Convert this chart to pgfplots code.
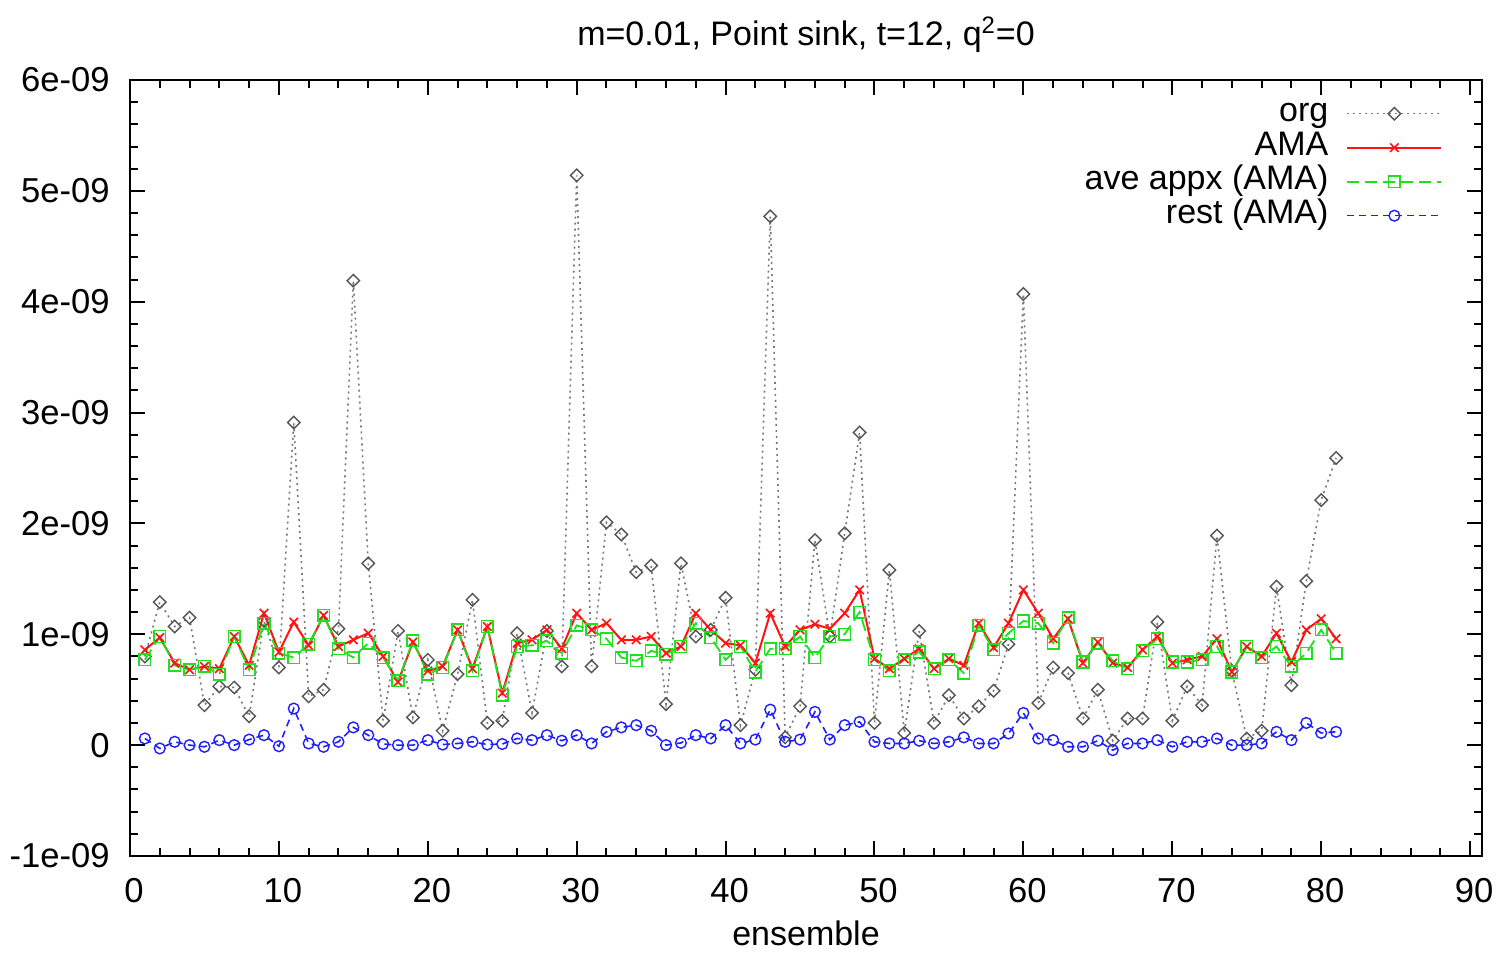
\documentclass[border=0pt]{standalone}
\usepackage{fontspec}
\setmainfont{Liberation Sans}
\usepackage{pgfplots}
\pgfplotsset{compat=1.18}

\definecolor{orggray}{RGB}{85,85,85}
\definecolor{orgline}{RGB}{120,120,120}
\definecolor{amared}{RGB}{255,20,20}
\definecolor{appxgreen}{RGB}{30,225,30}
\definecolor{restblue}{RGB}{30,30,255}

% correlator values per configuration, in units of 1e-09
\pgfplotstableread{
n org AMA appx rest
1 0.80 0.86 0.77 0.06
2 1.29 0.97 0.98 -0.03
3 1.07 0.74 0.72 0.03
4 1.15 0.68 0.68 0.00
5 0.36 0.71 0.71 -0.015
6 0.53 0.69 0.64 0.045
7 0.52 0.98 0.98 0.00
8 0.26 0.72 0.68 0.05
9 1.12 1.19 1.10 0.09
10 0.70 0.84 0.83 -0.01
11 2.91 1.11 0.79 0.33
12 0.44 0.90 0.91 0.015
13 0.50 1.17 1.17 -0.015
14 1.05 0.89 0.87 0.03
15 4.19 0.95 0.79 0.16
16 1.64 1.01 0.92 0.09
17 0.22 0.80 0.79 0.01
18 1.03 0.57 0.58 0.00
19 0.25 0.93 0.94 0.00
20 0.77 0.67 0.64 0.045
21 0.13 0.71 0.70 0.005
22 0.64 1.04 1.04 0.015
23 1.31 0.69 0.67 0.03
24 0.20 1.07 1.07 0.005
25 0.22 0.47 0.45 0.01
26 1.01 0.92 0.89 0.06
27 0.29 0.95 0.90 0.045
28 1.03 1.04 0.94 0.09
29 0.71 0.87 0.83 0.04
30 5.14 1.19 1.08 0.09
31 0.71 1.04 1.04 0.015
32 2.01 1.10 0.96 0.12
33 1.90 0.95 0.79 0.16
34 1.56 0.95 0.76 0.18
35 1.62 0.98 0.85 0.13
36 0.37 0.83 0.82 0.00
37 1.64 0.89 0.89 0.02
38 0.98 1.19 1.10 0.09
39 1.04 1.04 0.97 0.06
40 1.33 0.92 0.77 0.18
41 0.18 0.90 0.89 0.015
42 0.68 0.74 0.66 0.05
43 4.77 1.19 0.87 0.32
44 0.07 0.89 0.87 0.03
45 0.35 1.04 0.98 0.05
46 1.85 1.09 0.79 0.30
47 0.98 1.05 0.98 0.05
48 1.91 1.19 1.00 0.18
49 2.82 1.40 1.20 0.21
50 0.20 0.78 0.77 0.03
51 1.58 0.69 0.67 0.015
52 0.11 0.78 0.77 0.015
53 1.03 0.87 0.84 0.04
54 0.20 0.69 0.69 0.015
55 0.45 0.78 0.77 0.03
56 0.24 0.72 0.65 0.07
57 0.35 1.10 1.08 0.015
58 0.49 0.88 0.86 0.015
59 0.91 1.10 1.01 0.105
60 4.07 1.40 1.12 0.29
61 0.38 1.19 1.10 0.06
62 0.70 0.96 0.92 0.045
63 0.65 1.14 1.15 -0.015
64 0.24 0.74 0.75 -0.015
65 0.50 0.93 0.92 0.04
66 0.04 0.74 0.76 -0.045
67 0.24 0.70 0.69 0.015
68 0.24 0.86 0.85 0.015
69 1.11 0.98 0.96 0.045
70 0.22 0.74 0.75 -0.015
71 0.53 0.77 0.75 0.03
72 0.36 0.80 0.77 0.03
73 1.89 0.96 0.89 0.06
74 0.67 0.66 0.66 0.00
75 0.06 0.89 0.89 0.00
76 0.13 0.80 0.79 0.015
77 1.43 1.01 0.89 0.12
78 0.54 0.75 0.71 0.045
79 1.48 1.04 0.83 0.20
80 2.21 1.14 1.04 0.11
81 2.59 0.96 0.83 0.12
}\datatable

\begin{document}
\begin{tikzpicture}
\begin{axis}[
  scale only axis,
  width=676pt, height=388pt,
  xmin=0, xmax=90.8, ymin=-1, ymax=6,
  xtick={0,10,...,90},
  ytick={-1,0,...,6},
  yticklabels={-1e-09,0,1e-09,2e-09,3e-09,4e-09,5e-09,6e-09},
  minor x tick num=4, minor y tick num=4,
  tick align=inside,
  major tick length=7.5pt, minor tick length=4pt,
  every tick/.style={black, line width=1pt},
  axis line style={line width=1.4pt},
  /pgf/number format/assume math mode=true,
  tick label style={font=\fontsize{17.3}{20}\selectfont},
  xticklabel style={anchor=base, yshift=-23.5pt, xshift=2pt, inner sep=0pt},
  yticklabel style={anchor=east, xshift=-10pt, inner sep=0pt},
  title={m=0.01, Point sink, t=12, q\textsuperscript{2}=0},
  title style={at={(axis description cs:0.5,1)}, anchor=base, yshift=11pt, inner sep=0pt, font=\fontsize{17}{20}\selectfont},
  xlabel={ensemble},
  xlabel style={at={(axis description cs:0.5,0)}, anchor=base, yshift=-45pt, inner sep=0pt, font=\fontsize{17}{20}\selectfont},
  legend plot pos=right,
  legend cell align=right,
  legend style={at={(rel axis cs:0.971,0.979)}, anchor=north east, draw=none, fill=none,
    inner sep=0pt, row sep=0pt, column sep=5pt,
    font=\fontsize{17}{20}\selectfont,
    nodes={inner ysep=0pt, inner xsep=4pt, text height=12.5pt, text depth=4.5pt}},
  legend image code/.code={\draw[mark repeat=2, mark phase=2, #1] plot coordinates {(0pt,0pt) (23.5pt,0pt) (47pt,0pt)};},
]
\addplot[orgline, line width=0.8pt, dash pattern=on 1pt off 2pt,
  mark=square, mark size=2.2pt, mark options={solid, draw=orggray, line width=0.7pt, rotate=45}]
  table[x=n, y=org] {\datatable};
\addlegendentry{org}
\addplot[amared, line width=1pt,
  mark=x, mark size=3pt, mark options={solid, line width=0.8pt}]
  table[x=n, y=AMA] {\datatable};
\addlegendentry{AMA}
\addplot[appxgreen, line width=0.9pt, dash pattern=on 6pt off 3pt,
  mark=square, mark size=2.9pt, mark options={solid, line width=0.75pt}]
  table[x=n, y=appx] {\datatable};
\addlegendentry{ave appx (AMA)}
\addplot[restblue, line width=0.8pt, dash pattern=on 3.5pt off 2.5pt,
  mark=o, mark size=2.7pt, mark options={solid, line width=0.7pt}]
  table[x=n, y=rest] {\datatable};
\addlegendentry{rest (AMA)}
\end{axis}
\pgfresetboundingbox
\path ([xshift=-65pt,yshift=-49.5pt]current axis.south west) rectangle ([xshift=8.5pt,yshift=40pt]current axis.north east);
\end{tikzpicture}
\end{document}
